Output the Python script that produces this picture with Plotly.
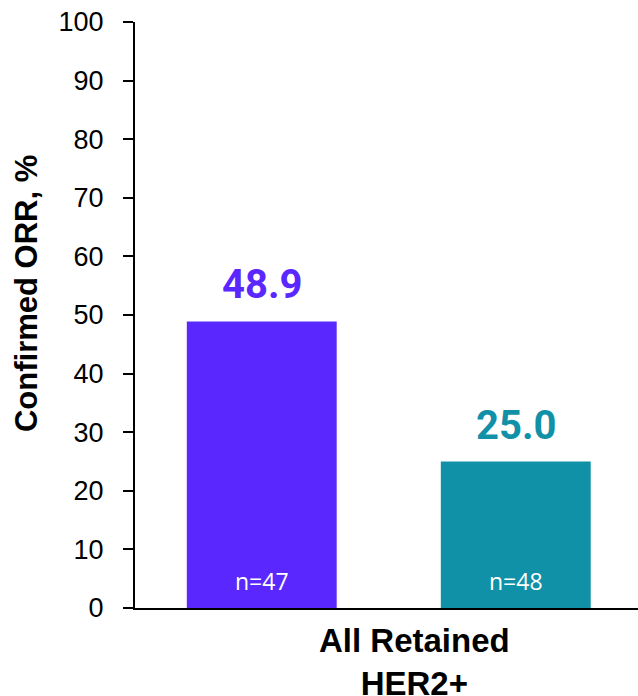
import plotly.graph_objects as go

category = "All Retained<br>HER2+"
series_names = ["Arm A", "Arm B"]
values = [48.9, 25.0]
value_labels = ["48.9", "25.0"]
n_labels = ["n=47", "n=48"]
colors = ["#5A28FF", "#1191A8"]
y_ticks = [0, 10, 20, 30, 40, 50, 60, 70, 80, 90, 100]

# bar geometry in category units (plot width spans one category from -0.5 to 0.5)
bar_width = 0.298
offsets = [-0.397, 0.108]

fig = go.Figure()
for name, v, c, off in zip(series_names, values, colors, offsets):
    fig.add_trace(go.Bar(
        x=[0], y=[v], name=name, marker=dict(color=c, line=dict(width=0)),
        width=bar_width, offset=off, showlegend=False, hoverinfo="skip",
    ))

annotations = []
for v, lab, nl, c, off in zip(values, value_labels, n_labels, colors, offsets):
    xc = off + bar_width / 2
    annotations.append(dict(
        x=xc, y=v, xref="x", yref="y", text=lab, showarrow=False,
        yanchor="bottom", yshift=11,
        font=dict(family="Roboto", size=40, color=c, weight="bold"),
    ))
    annotations.append(dict(
        x=xc, y=0, xref="x", yref="y", text=nl, showarrow=False,
        yanchor="bottom", yshift=9,
        font=dict(family="Open Sans", size=23, color="white"),
    ))

annotations.append(dict(
    x=0.555, y=0, xref="paper", yref="paper", text=category, showarrow=False,
    yanchor="top", yshift=-12,
    font=dict(family="Liberation Sans", size=33, color="black", weight="bold"),
))
annotations.append(dict(
    x=-0.2167, y=0.5375, xref="paper", yref="paper", text="Confirmed ORR, %",
    showarrow=False, textangle=-90, xanchor="center", yanchor="middle",
    font=dict(family="Liberation Sans", size=31, color="black", weight="bold"),
))

fig.update_layout(
    width=638, height=696,
    margin=dict(l=135, r=0, t=22, b=88),
    paper_bgcolor="white", plot_bgcolor="white",
    barmode="overlay",
    annotations=annotations,
    xaxis=dict(
        range=[-0.5, 0.5], showticklabels=False, ticks="", showgrid=False,
        zeroline=False, showline=True, linecolor="black", linewidth=2,
        fixedrange=True,
    ),
    yaxis=dict(
        range=[0, 100], tickvals=y_ticks, ticktext=[str(t) for t in y_ticks],
        ticks="outside", ticklen=10, tickwidth=2, tickcolor="black",
        showline=True, linecolor="black", linewidth=2, showgrid=False,
        zeroline=False, ticklabelstandoff=14,
        tickfont=dict(family="Liberation Sans", size=27, color="black"),
    ),
)

fig.write_html("out.html")
